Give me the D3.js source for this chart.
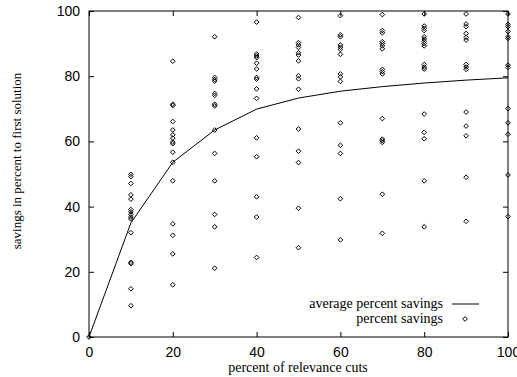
<!DOCTYPE html>
<html>
<head>
<meta charset="utf-8">
<script src="https://cdn.jsdelivr.net/npm/d3@7"></script>
<style>
  html, body { margin: 0; padding: 0; background: #fff; }
  svg { display: block; font-family: "Liberation Serif", "DejaVu Serif", serif; }
</style>
</head>
<body>
<svg id="chart" width="517" height="377"></svg>
<script>
// ─── Data ──────────────────────────────────────────────────────────────────
const cutLevels = [0, 10, 20, 30, 40, 50, 60, 70, 80, 90, 100];

// individual percent savings per cut level
const savings0   = [0];
const savings10  = [49.9, 49.2, 47.1, 43.6, 42.3, 39.1, 38.4, 37.6, 36.8, 36.2, 32.0, 22.9, 22.5, 14.8, 9.6];
const savings20  = [84.6, 71.4, 71.0, 66.1, 63.5, 62.0, 61.0, 59.8, 59.3, 56.7, 53.6, 47.9, 34.7, 31.2, 25.5, 16.0];
const savings30  = [92.1, 79.6, 79.0, 78.5, 74.7, 74.1, 71.4, 70.9, 63.5, 56.3, 47.9, 37.6, 33.8, 21.1];
const savings40  = [96.6, 86.8, 86.2, 85.7, 84.0, 82.2, 79.6, 79.1, 76.1, 73.2, 61.1, 55.3, 43.0, 36.8, 24.4];
const savings50  = [98.0, 90.3, 89.6, 88.8, 87.2, 86.5, 84.7, 80.1, 79.2, 76.0, 63.8, 57.0, 53.5, 39.5, 27.4];
const savings60  = [98.6, 92.7, 92.1, 89.6, 88.9, 88.2, 86.7, 80.7, 79.8, 78.4, 65.7, 58.8, 56.3, 42.4, 29.8];
const savings70  = [98.9, 94.0, 93.3, 90.6, 90.0, 89.3, 88.4, 82.1, 81.4, 80.7, 67.0, 60.7, 60.2, 59.7, 43.8, 31.8];
const savings80  = [99.1, 95.4, 94.7, 94.0, 92.1, 91.4, 90.7, 90.0, 89.3, 83.6, 82.8, 82.2, 68.4, 62.8, 60.8, 47.9, 33.8];
const savings90  = [99.1, 96.0, 95.2, 93.1, 91.9, 91.1, 83.6, 82.8, 82.1, 69.0, 64.7, 61.7, 49.0, 35.5];
const savings100 = [99.1, 95.9, 95.2, 93.7, 92.1, 91.6, 83.4, 82.7, 70.1, 65.7, 62.2, 49.7, 36.9];
const savingsByLevel = [savings0, savings10, savings20, savings30, savings40, savings50,
                        savings60, savings70, savings80, savings90, savings100];

// average percent savings
const avgSavings = [0, 35.0, 53.6, 63.5, 69.9, 73.3, 75.4, 76.8, 77.9, 78.8, 79.5];

const xTicks = [0, 20, 40, 60, 80, 100];
const yTicks = [0, 20, 40, 60, 80, 100];

const legendLabels = ["average percent savings", "percent savings"];

// ─── Layout ────────────────────────────────────────────────────────────────
const W = 517, H = 377;
const PLOT = { left: 89, right: 508, top: 11, bottom: 337 };
const FONT = 14;
const TICK = 5;

const x = d3.scaleLinear().domain([0, 100]).range([PLOT.left, PLOT.right]);
const y = d3.scaleLinear().domain([0, 100]).range([PLOT.bottom, PLOT.top]);

const svg = d3.select("#chart").attr("viewBox", `0 0 ${W} ${H}`);

// ─── Axes (gnuplot style: inward ticks, mirrored) ──────────────────────────
const axisStyle = g => {
  g.select(".domain").remove();
  g.selectAll(".tick line").attr("stroke", "#000").attr("stroke-width", 1);
  g.selectAll(".tick text").attr("font-size", FONT).attr("font-family", null).attr("fill", "#000");
};

svg.append("g")
  .attr("transform", `translate(0,${PLOT.bottom})`)
  .call(d3.axisBottom(x).tickValues(xTicks).tickSize(-TICK).tickPadding(10).tickFormat(d3.format("d")))
  .call(axisStyle);

svg.append("g")
  .attr("transform", `translate(0,${PLOT.top})`)
  .call(d3.axisTop(x).tickValues(xTicks).tickSize(-TICK).tickFormat(""))
  .call(axisStyle);

svg.append("g")
  .attr("transform", `translate(${PLOT.left},0)`)
  .call(d3.axisLeft(y).tickValues(yTicks).tickSize(-TICK).tickPadding(9).tickFormat(d3.format("d")))
  .call(axisStyle);

svg.append("g")
  .attr("transform", `translate(${PLOT.right},0)`)
  .call(d3.axisRight(y).tickValues(yTicks).tickSize(-TICK).tickFormat(""))
  .call(axisStyle);

// frame
svg.append("rect")
  .attr("x", PLOT.left).attr("y", PLOT.top)
  .attr("width", PLOT.right - PLOT.left).attr("height", PLOT.bottom - PLOT.top)
  .attr("fill", "none").attr("stroke", "#000").attr("stroke-width", 1);

// ─── Axis labels ───────────────────────────────────────────────────────────
svg.append("text")
  .attr("x", (PLOT.left + PLOT.right) / 2 - 0.5).attr("y", 372)
  .attr("text-anchor", "middle").attr("font-size", FONT)
  .text("percent of relevance cuts");

svg.append("text")
  .attr("transform", "translate(21,161) rotate(-90)")
  .attr("text-anchor", "middle").attr("font-size", 13)
  .text("savings in percent to first solution");

// ─── Series ────────────────────────────────────────────────────────────────
const line = d3.line().x((d, i) => x(cutLevels[i])).y(d => y(d));
svg.append("path")
  .datum(avgSavings)
  .attr("d", line)
  .attr("fill", "none").attr("stroke", "#000").attr("stroke-width", 1);

const points = savingsByLevel.flatMap((vals, i) => vals.map(v => ({ cut: cutLevels[i], v })));
const diamond = d3.symbol().type(d3.symbolDiamond2).size(14);

svg.append("g").selectAll("path")
  .data(points).join("path")
  .attr("transform", d => `translate(${x(d.cut)},${y(d.v)})`)
  .attr("d", diamond)
  .attr("fill", "none").attr("stroke", "#000").attr("stroke-width", 1);

// ─── Legend ────────────────────────────────────────────────────────────────
const lgX = 443, lgY = 308, lgStep = 15;
svg.append("text").attr("x", lgX).attr("y", lgY)
  .attr("text-anchor", "end").attr("font-size", FONT).text(legendLabels[0]);
svg.append("line")
  .attr("x1", 452).attr("x2", 479).attr("y1", lgY - 4).attr("y2", lgY - 4)
  .attr("stroke", "#000").attr("stroke-width", 1);
svg.append("text").attr("x", lgX).attr("y", lgY + lgStep)
  .attr("text-anchor", "end").attr("font-size", FONT).text(legendLabels[1]);
svg.append("path")
  .attr("transform", `translate(465,${lgY + lgStep - 4})`)
  .attr("d", diamond)
  .attr("fill", "none").attr("stroke", "#000").attr("stroke-width", 1);
</script>
</body>
</html>
